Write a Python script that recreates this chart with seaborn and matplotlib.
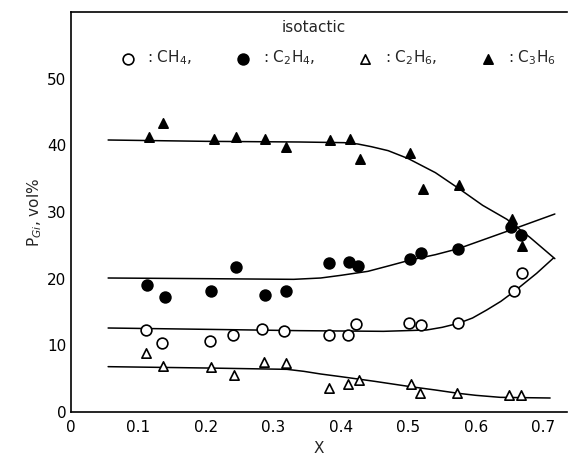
import numpy as np
import pandas as pd
import matplotlib
matplotlib.use("Agg")
import matplotlib.pyplot as plt
import seaborn as sns

sns.set_style("white")
plt.rcParams["font.family"] = ["DejaVu Sans"]

# measured points (x = X, y = P_Gi vol%)
ch4_x = [0.111, 0.135, 0.206, 0.240, 0.283, 0.316, 0.383, 0.411, 0.422,
         0.501, 0.518, 0.574, 0.657, 0.668]
ch4_y = [12.3, 10.3, 10.7, 11.6, 12.5, 12.2, 11.6, 11.6, 13.2,
         13.4, 13.1, 13.3, 18.1, 20.8]

c2h4_x = [0.112, 0.139, 0.208, 0.244, 0.288, 0.318, 0.383, 0.412, 0.426,
          0.502, 0.518, 0.574, 0.652, 0.667]
c2h4_y = [19.1, 17.3, 18.1, 21.8, 17.6, 18.1, 22.4, 22.5, 21.9,
          22.9, 23.9, 24.5, 27.8, 26.6]

c2h6_x = [0.111, 0.136, 0.207, 0.241, 0.286, 0.318, 0.383, 0.411, 0.427,
          0.504, 0.517, 0.572, 0.649, 0.667]
c2h6_y = [8.8, 6.9, 6.8, 5.5, 7.5, 7.3, 3.6, 4.2, 4.8,
          4.2, 2.8, 2.8, 2.6, 2.6]

c3h6_x = [0.115, 0.137, 0.212, 0.244, 0.287, 0.319, 0.384, 0.414, 0.428,
          0.503, 0.521, 0.575, 0.654, 0.652, 0.668]
c3h6_y = [41.2, 43.3, 41.0, 41.3, 40.9, 39.7, 40.8, 41.0, 37.9,
          38.8, 33.5, 34.0, 29.0, 28.3, 24.9]

# hand-drawn fitted curves
ch4_cx = [0.055, 0.20, 0.339, 0.463, 0.527, 0.55, 0.574, 0.595, 0.616,
          0.637, 0.657, 0.69, 0.715]
ch4_cy = [12.6, 12.4, 12.2, 12.1, 12.3, 12.7, 13.3, 14.1, 15.3,
          16.6, 18.1, 20.8, 23.1]

c2h4_cx = [0.055, 0.20, 0.33, 0.37, 0.40, 0.44, 0.47, 0.503, 0.54,
           0.574, 0.61, 0.646, 0.717]
c2h4_cy = [20.1, 20.0, 19.9, 20.1, 20.5, 21.1, 21.9, 22.8, 23.6,
           24.5, 25.8, 27.1, 29.7]

c2h6_cx = [0.055, 0.20, 0.32, 0.345, 0.37, 0.40, 0.45, 0.503, 0.54,
           0.574, 0.60, 0.636, 0.710]
c2h6_cy = [6.8, 6.6, 6.4, 6.1, 5.7, 5.3, 4.6, 3.8, 3.3,
           2.8, 2.5, 2.2, 2.1]

c3h6_cx = [0.055, 0.20, 0.339, 0.405, 0.425, 0.445, 0.47, 0.50, 0.54,
           0.575, 0.61, 0.646, 0.68, 0.717]
c3h6_cy = [40.8, 40.6, 40.5, 40.4, 40.2, 39.8, 39.2, 38.0, 35.9,
           33.5, 31.0, 28.9, 26.2, 23.0]

pts = pd.DataFrame({
    "x": ch4_x + c2h4_x + c2h6_x + c3h6_x,
    "y": ch4_y + c2h4_y + c2h6_y + c3h6_y,
    "gas": (["CH4"] * len(ch4_x) + ["C2H4"] * len(c2h4_x)
            + ["C2H6"] * len(c2h6_x) + ["C3H6"] * len(c3h6_x)),
})

curves = pd.DataFrame({
    "x": ch4_cx + c2h4_cx + c2h6_cx + c3h6_cx,
    "y": ch4_cy + c2h4_cy + c2h6_cy + c3h6_cy,
    "gas": (["CH4"] * len(ch4_cx) + ["C2H4"] * len(c2h4_cx)
            + ["C2H6"] * len(c2h6_cx) + ["C3H6"] * len(c3h6_cx)),
})

fig = plt.figure(figsize=(5.75, 4.66), dpi=100)
ax = fig.add_axes([71 / 575, 1 - 412 / 466, (567 - 71) / 575, 400 / 466])

for gas, df in curves.groupby("gas"):
    sns.lineplot(data=df, x="x", y="y", ax=ax, color="black", lw=1.1,
                 sort=False, estimator=None, legend=False)

styles = {
    "CH4": dict(marker="o", facecolor="white", s=60),
    "C2H4": dict(marker="o", facecolor="black", s=60),
    "C2H6": dict(marker="^", facecolor="white", s=45),
    "C3H6": dict(marker="^", facecolor="black", s=45),
}
labels = {
    "CH4": ": CH$_4$,",
    "C2H4": ": C$_2$H$_4$,",
    "C2H6": ": C$_2$H$_6$,",
    "C3H6": ": C$_3$H$_6$",
}
for gas in ["CH4", "C2H4", "C2H6", "C3H6"]:
    df = pts[pts["gas"] == gas]
    st = styles[gas]
    sns.scatterplot(data=df, x="x", y="y", ax=ax, marker=st["marker"],
                    s=st["s"], color=st["facecolor"], edgecolor="black",
                    linewidth=1.2, label=labels[gas], zorder=3)

ax.set_xlim(0, 0.735)
ax.set_ylim(0, 60)
ax.set_xticks(np.arange(0, 0.71, 0.1))
ax.set_xticklabels(["0", "0.1", "0.2", "0.3", "0.4", "0.5", "0.6", "0.7"])
ax.set_yticks([0, 10, 20, 30, 40, 50])
ax.tick_params(direction="in", length=5, width=1, labelsize=11, colors="black")
ax.tick_params(axis="x", pad=6)

for side in ["left", "bottom", "top"]:
    ax.spines[side].set_color("black")
    ax.spines[side].set_linewidth(1.2)
ax.spines["right"].set_visible(False)

ax.set_xlabel("X", fontsize=11, labelpad=4)
ax.set_ylabel("P$_{Gi}$, vol%", fontsize=11, labelpad=2)

ax.text(0.49, 0.96, "isotactic", transform=ax.transAxes,
        ha="center", va="center", fontsize=11)
leg = ax.legend(loc="center", ncol=4, frameon=False,
                fontsize=11, handletextpad=0.3,
                columnspacing=2.3, bbox_to_anchor=(0.53, 0.885))

fig.savefig("out.png", dpi=100)
